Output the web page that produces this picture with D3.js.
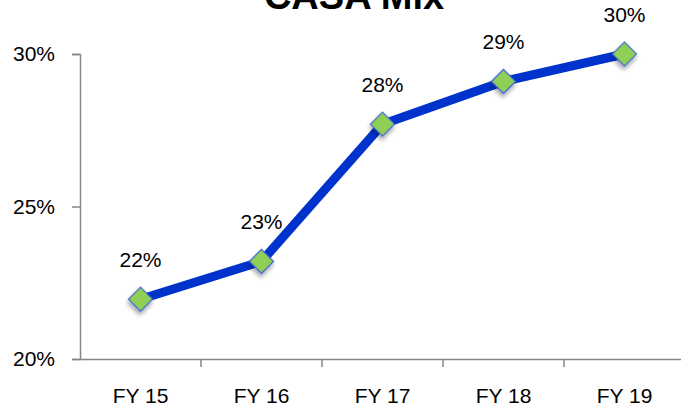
<!DOCTYPE html>
<html>
<head>
<meta charset="utf-8">
<script src="https://cdn.jsdelivr.net/npm/d3@7"></script>
<style>
  body { margin: 0; background: #fff; }
  svg { display: block; font-family: "Liberation Sans", Arial, sans-serif; }
</style>
</head>
<body>
<div id="chart"></div>
<script>
// chart data
var years = ["FY 15", "FY 16", "FY 17", "FY 18", "FY 19"];
var casaMix = [0.2196, 0.232, 0.277, 0.291, 0.300];
var yTicks = [0.20, 0.25, 0.30];

var svgWidth = 681;
var svgHeight = 409;

var svg = d3.select("#chart")
  .append("svg")
  .attr("width", svgWidth)
  .attr("height", svgHeight);

// drop shadow for the markers
var defs = svg.append("defs");
var shadow = defs.append("filter")
  .attr("id", "shadow")
  .attr("x", "-50%").attr("y", "-50%")
  .attr("width", "200%").attr("height", "200%");
shadow.append("feDropShadow")
  .attr("dx", 2).attr("dy", 3)
  .attr("stdDeviation", 2)
  .attr("flood-color", "#000")
  .attr("flood-opacity", 0.35);

// scales
var xScale = d3.scaleBand()
  .domain(years)
  .range([80, 685]);

var yScale = d3.scaleLinear()
  .domain([0.20, 0.30])
  .range([359, 54]);

// axes
var bottomAxis = d3.axisBottom(xScale).tickSize(0).tickPadding(0);
var leftAxis = d3.axisLeft(yScale)
  .tickValues(yTicks)
  .tickSize(8)
  .tickPadding(17)
  .tickFormat(d3.format(".0%"));

var xAxisG = svg.append("g")
  .attr("transform", "translate(0,359)")
  .call(bottomAxis);
xAxisG.select(".domain").attr("stroke", "#868686").attr("stroke-width", 1.5);
xAxisG.selectAll("text")
  .attr("dy", null)
  .attr("y", 44)
  .attr("fill", "#000")
  .attr("font-size", 21);

// tick marks between categories
xAxisG.selectAll(".sep")
  .data(years.slice(1))
  .enter()
  .append("line")
  .attr("class", "sep")
  .attr("x1", d => xScale(d))
  .attr("x2", d => xScale(d))
  .attr("y1", 0)
  .attr("y2", 8)
  .attr("stroke", "#868686")
  .attr("stroke-width", 1.5);

var yAxisG = svg.append("g")
  .attr("transform", "translate(80,0)")
  .call(leftAxis);
yAxisG.select(".domain").attr("stroke", "#868686").attr("stroke-width", 1.5);
yAxisG.selectAll(".tick line").attr("stroke", "#868686").attr("stroke-width", 1.5);
yAxisG.selectAll("text")
  .attr("fill", "#000")
  .attr("font-size", 21);

// title (partly cut off at the top)
svg.append("text")
  .attr("x", 354)
  .attr("y", 9)
  .attr("text-anchor", "middle")
  .attr("font-weight", "bold")
  .attr("font-size", 38)
  .attr("fill", "#000")
  .text("CASA Mix");

var points = years.map((d, i) => ({ year: d, value: casaMix[i] }));
var cx = d => xScale(d.year) + xScale.bandwidth() / 2;

// line
var line = d3.line()
  .x(cx)
  .y(d => yScale(d.value));

svg.append("path")
  .datum(points)
  .attr("d", line)
  .attr("fill", "none")
  .attr("stroke", "#0033cc")
  .attr("stroke-width", 9)
  .attr("stroke-linejoin", "round");

// diamond markers
svg.selectAll(".marker")
  .data(points)
  .enter()
  .append("rect")
  .attr("class", "marker")
  .attr("x", -8.5)
  .attr("y", -8.5)
  .attr("width", 17)
  .attr("height", 17)
  .attr("transform", d => `translate(${cx(d)},${yScale(d.value)}) rotate(45)`)
  .attr("fill", "#8fcf55")
  .attr("stroke", "#3a5fcd")
  .attr("stroke-width", 1.2)
  .attr("filter", "url(#shadow)");

// data labels
svg.selectAll(".label")
  .data(points)
  .enter()
  .append("text")
  .attr("class", "label")
  .attr("x", cx)
  .attr("y", d => yScale(d.value) - 32)
  .attr("text-anchor", "middle")
  .attr("font-size", 21)
  .attr("fill", "#000")
  .text(d => d3.format(".0%")(d.value));
</script>
</body>
</html>
